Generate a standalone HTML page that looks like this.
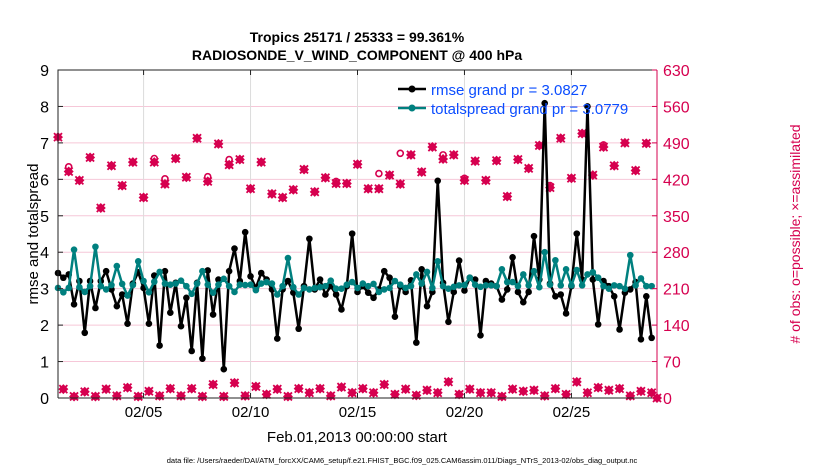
<!DOCTYPE html>
<html><head><meta charset="utf-8"><style>
html,body{margin:0;padding:0;background:#fff;}
svg{display:block;font-family:"Liberation Sans",sans-serif;}
</style></head><body>
<svg id="chart" width="830" height="470" viewBox="0 0 830 470" xmlns="http://www.w3.org/2000/svg">
<rect width="830" height="470" fill="#fff"/>
<g id="grid"></g>
<g id="series"></g>
<g id="axes"></g>
<text x="357" y="42" text-anchor="middle" font-size="14" font-weight="bold">Tropics 25171 / 25333 = 99.361%</text>
<text x="357" y="60" text-anchor="middle" font-size="14" font-weight="bold">RADIOSONDE_V_WIND_COMPONENT @ 400 hPa</text>
<text transform="translate(38,234) rotate(-90)" text-anchor="middle" font-size="15">rmse and totalspread</text>
<text transform="translate(800,234) rotate(-90)" text-anchor="middle" font-size="14" fill="#d6004f"># of obs: o=possible; ×=assimilated</text>
<text x="357" y="442" text-anchor="middle" font-size="15">Feb.01,2013 00:00:00 start</text>
<text x="402" y="463" text-anchor="middle" font-size="7.5">data file: /Users/raeder/DAI/ATM_forcXX/CAM6_setup/f.e21.FHIST_BGC.f09_025.CAM6assim.011/Diags_NTrS_2013-02/obs_diag_output.nc</text>
<g>
<line x1="398" y1="89" x2="426" y2="89" stroke="#000" stroke-width="2.5"/><circle cx="412" cy="89" r="3.5" fill="#000"/>
<text x="431" y="95" font-size="15" fill="#0b4dff">rmse grand pr = 3.0827</text>
<line x1="398" y1="108" x2="426" y2="108" stroke="#00807f" stroke-width="2.5"/><circle cx="412" cy="108" r="3.5" fill="#00807f"/>
<text x="431" y="114" font-size="15" fill="#0b4dff">totalspread grand pr = 3.0779</text>
</g>
</svg>
<script>
const rmse=[3.43,3.30,3.39,2.57,3.21,1.79,3.21,2.47,3.21,3.48,2.98,2.52,2.84,2.04,3.14,3.45,3.02,2.04,3.36,1.44,3.48,2.34,3.16,1.97,2.75,1.29,3.16,1.08,3.50,2.29,3.25,0.79,3.48,4.10,3.21,4.55,3.34,3.02,3.43,3.25,2.98,1.63,2.98,3.21,2.89,1.90,3.07,4.37,2.98,3.25,2.84,3.07,2.84,2.43,3.07,4.51,2.91,3.07,2.89,2.75,2.98,3.48,3.30,2.23,3.07,2.91,3.23,1.52,3.53,2.52,2.91,5.96,3.16,2.09,2.91,3.77,2.95,3.30,3.25,1.72,3.21,3.14,3.07,2.70,2.98,3.86,2.91,2.63,2.91,4.44,3.25,8.09,3.14,2.79,2.84,2.32,3.07,4.51,3.25,8.00,3.25,2.02,3.21,3.07,2.79,1.88,2.89,2.98,3.18,1.61,2.79,1.65];
const spread=[3.02,2.90,3.02,4.07,3.04,2.91,3.07,4.15,3.07,2.98,3.10,3.62,3.13,2.81,3.10,3.75,3.21,2.90,3.19,3.46,3.14,3.11,3.14,3.22,3.07,2.86,3.14,3.48,3.11,2.89,3.11,3.27,3.07,2.91,3.11,3.10,3.11,2.96,3.14,3.18,3.14,2.84,3.07,3.84,3.04,2.84,3.02,2.98,3.02,3.04,3.07,3.22,3.00,3.00,3.11,3.18,3.02,3.14,3.07,3.13,2.91,2.98,3.02,3.21,3.11,3.02,3.07,3.39,3.14,3.46,3.02,3.75,3.07,3.00,3.05,3.09,3.10,3.30,3.11,3.05,3.09,3.09,3.07,3.53,3.18,3.18,3.07,3.39,3.09,3.48,3.04,4.00,3.11,3.78,3.09,3.53,3.09,3.51,3.09,3.39,3.45,3.30,3.07,3.00,3.09,3.07,3.00,3.92,3.09,3.28,3.07,3.07];
const nUsed=[501,17,435,3,418,12,462,3,365,17,446,4,408,20,453,3,385,13,453,4,411,18,460,4,424,18,499,3,416,26,488,3,448,29,458,4,402,22,453,7,392,17,385,3,400,18,439,10,396,18,423,4,412,21,412,10,449,18,402,10,402,26,428,7,411,17,467,5,434,15,482,10,459,31,467,7,418,17,455,10,418,10,456,3,387,17,458,13,441,15,485,4,404,18,499,7,422,31,508,10,428,20,482,15,446,18,490,4,437,13,489,10,0];
const nPoss=[501,17,444,3,418,12,462,3,365,17,446,4,408,20,453,3,385,13,460,4,421,18,460,4,424,18,499,3,425,26,488,3,458,29,458,4,402,22,453,7,392,17,385,3,400,18,439,10,396,18,423,4,416,21,412,10,449,18,402,10,431,26,428,7,470,17,467,5,434,15,482,10,467,31,467,7,422,17,455,10,418,10,456,3,387,17,458,13,441,15,485,4,408,18,499,7,422,31,508,10,428,20,486,15,446,18,490,4,437,13,489,10,0];
const yTicks=[0,1,2,3,4,5,6,7,8,9];
const y2Ticks=[0,70,140,210,280,350,420,490,560,630];
const xTickDays=[4,9,14,19,24];
const xTickLabels=["02/05","02/10","02/15","02/20","02/25"];

const L=58,R=657,T=70,B=398,NS="http://www.w3.org/2000/svg";
const xs=d=>L+(R-L)*d/28;
const ys=v=>B-(B-T)*v/9;
const ys2=v=>B-(B-T)*v/630;
const dayOf=i=>i*0.25;
function mk(tag,attrs,parent){const e=document.createElementNS(NS,tag);for(const k in attrs)e.setAttribute(k,attrs[k]);parent.appendChild(e);return e;}
const grid=document.getElementById('grid'),ser=document.getElementById('series'),ax=document.getElementById('axes');
yTicks.forEach(v=>{if(v>0&&v<9){const g=mk('line',{x1:L,x2:R,y1:ys(v),y2:ys(v),stroke:'#f6c7d8','stroke-width':1},grid);

}});
xTickDays.forEach(d=>{const g=mk('line',{x1:xs(d),x2:xs(d),y1:T,y2:B,stroke:'#dcdcdc','stroke-width':1},grid);

});
nPoss.forEach((v,i)=>{if(v!==nUsed[i]){const x=xs(dayOf(i)),y=ys2(v);const c=mk('circle',{cx:x,cy:y,r:3,fill:'none',stroke:'#d6004f','stroke-width':1.6},ser);

}});
nUsed.forEach((v,i)=>{const x=xs(dayOf(i)),y=ys2(v);const g=mk('g',{},ser);


mk('path',{d:`M${x-5},${y}L${x},${y-5}L${x+5},${y}L${x},${y+5}Z`,fill:'#d6004f'},g);
mk('path',{d:`M${x-4},${y-4}L${x+4},${y+4}M${x+4},${y-4}L${x-4},${y+4}`,stroke:'#d6004f','stroke-width':1.8},g);});
function line(arr,col,name){const p=mk('polyline',{points:arr.map((v,i)=>xs(dayOf(i))+','+ys(v)).join(' '),fill:'none',stroke:col,'stroke-width':2.5,'stroke-linejoin':'round'},ser);


arr.forEach((v,i)=>{const c=mk('circle',{cx:xs(dayOf(i)),cy:ys(v),r:3.3,fill:col},ser);

});}
line(rmse,'#000','rmse');
line(spread,'#00807f','totalspread');
let a=mk('path',{d:`M${L},${B}L${L},${T}L${R},${T}`,fill:'none',stroke:'#222','stroke-width':1},ax);


a=mk('line',{x1:L,x2:R,y1:B,y2:B,stroke:'#222','stroke-width':1},ax);


a=mk('line',{x1:R,x2:R,y1:T,y2:B,stroke:'#d6004f','stroke-width':1},ax);


yTicks.forEach(v=>{mk('line',{x1:L,x2:L+5,y1:ys(v),y2:ys(v),stroke:'#222'},ax);
const t=mk('text',{x:L-9,y:ys(v)+6,'text-anchor':'end','font-size':16},ax);t.textContent=v;

});
y2Ticks.forEach(v=>{mk('line',{x1:R-5,x2:R,y1:ys2(v),y2:ys2(v),stroke:'#d6004f'},ax);
const t=mk('text',{x:R+6,y:ys2(v)+6,'font-size':16,fill:'#d6004f'},ax);t.textContent=v;

});
xTickDays.forEach((d,i)=>{mk('line',{x1:xs(d),x2:xs(d),y1:B,y2:B-5,stroke:'#222'},ax);mk('line',{x1:xs(d),x2:xs(d),y1:T,y2:T+5,stroke:'#222'},ax);
const t=mk('text',{x:xs(d),y:B+19,'text-anchor':'middle','font-size':15},ax);t.textContent=xTickLabels[i];

});
</script>
</body></html>
